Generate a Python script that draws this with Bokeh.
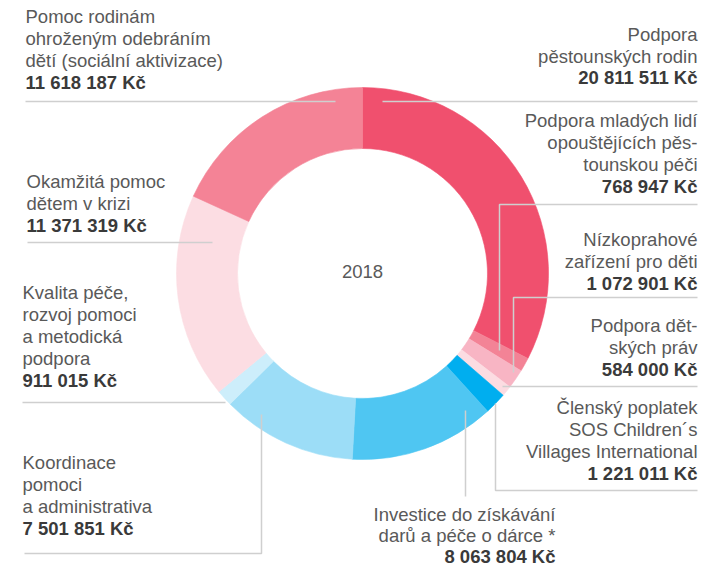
import numpy as np
from bokeh.plotting import figure
from bokeh.models import ColumnDataSource, Range1d
from bokeh.core.properties import value
from bokeh.embed import file_html
from bokeh.resources import INLINE

# ---------------- data ----------------
categories = [
    ["Podpora", "pěstounských rodin"],
    ["Podpora mladých lidí", "opouštějících pěs-", "tounskou péči"],
    ["Nízkoprahové", "zařízení pro děti"],
    ["Podpora dět-", "ských práv"],
    ["Členský poplatek", "SOS Children´s", "Villages International"],
    ["Investice do získávání", "darů a péče o dárce *"],
    ["Koordinace", "pomoci", "a administrativa"],
    ["Kvalita péče,", "rozvoj pomoci", "a metodická", "podpora"],
    ["Okamžitá pomoc", "dětem v krizi"],
    ["Pomoc rodinám", "ohroženým odebráním", "dětí (sociální aktivizace)"],
]
amounts = [20811511, 768947, 1072901, 584000, 1221011,
           8063804, 7501851, 911015, 11371319, 11618187]
colors = ["#F0506E", "#F38396", "#F8B5C4", "#FCDCE2", "#00AEEF",
          "#4FC6F2", "#9CDDF7", "#CDEEFB", "#FCDDE3", "#F48396"]
center_label = "2018"
currency = "Kč"

# ---------------- layout ----------------
W, H = 707, 568
CX, CY = 362, 273
R_OUT, R_IN = 186, 125

def Y(y):
    return H - y

label_x = [697, 697, 697, 697, 697, 555, 22, 22, 26, 25]
label_align = ["right"] * 6 + ["left"] * 4
label_first = [34, 120, 239, 325, 407, 514, 462, 292, 181, 16]
label_step = [21.5, 22, 22, 22, 22, 21, 22, 22, 22, 22]
leaders = [
    [(382, 101), (697, 101)],
    [(499, 350), (499, 204), (697, 204)],
    [(513, 372), (513, 297), (697, 297)],
    [(502, 386), (697, 386)],
    [(495, 403), (495, 490), (697, 490)],
    [(465, 410), (465, 496)],
    [(261, 414), (261, 553), (24, 553)],
    [(225, 402), (22, 402)],
    [(212, 242), (27, 242)],
    [(335, 101), (25, 101)],
]

# ---------------- figure ----------------
p = figure(width=W, height=H, x_range=Range1d(0, W), y_range=Range1d(0, H),
           output_backend="svg", toolbar_location=None, min_border=0,
           x_axis_type=None, y_axis_type=None)
p.grid.visible = False
p.outline_line_color = None
p.background_fill_color = "white"
p.border_fill_color = "white"

vals = np.array(amounts, dtype=float)
frac = vals / vals.sum()
c1 = np.cumsum(frac)
c0 = c1 - frac
wedges = ColumnDataSource(dict(
    start=np.pi / 2 - 2 * np.pi * c1,
    end=np.pi / 2 - 2 * np.pi * c0,
    color=colors,
))
p.annular_wedge(x=CX, y=Y(CY), inner_radius=R_IN, outer_radius=R_OUT,
                start_angle="start", end_angle="end", direction="anticlock",
                fill_color="color", line_color="color", line_width=0.6,
                source=wedges)

# leader lines
p.multi_line(xs=[[pt[0] for pt in l] for l in leaders],
             ys=[[Y(pt[1]) for pt in l] for l in leaders],
             line_color="#cfcfcf", line_width=1.5)

FONT = value("Liberation Sans")
FS = "18.5px"

def fmt(v):
    return f"{v:,}".replace(",", " ") + " " + currency

for align in ("left", "right"):
    norm = dict(x=[], y=[], text=[])
    bold = dict(x=[], y=[], text=[])
    for i, lines in enumerate(categories):
        if label_align[i] != align:
            continue
        for j, ln in enumerate(lines):
            norm["x"].append(label_x[i])
            norm["y"].append(Y(label_first[i] + j * label_step[i]))
            norm["text"].append(ln)
        bold["x"].append(label_x[i])
        bold["y"].append(Y(label_first[i] + len(lines) * label_step[i]))
        bold["text"].append(fmt(amounts[i]))
    p.text(x="x", y="y", text="text", source=ColumnDataSource(norm),
           text_align=align, text_baseline="alphabetic", text_font=FONT,
           text_font_size=FS, text_color="#595959")
    p.text(x="x", y="y", text="text", source=ColumnDataSource(bold),
           text_align=align, text_baseline="alphabetic", text_font=FONT,
           text_font_size=FS, text_font_style="bold", text_color="#3a3a3a")

p.text(x=[CX], y=[Y(271)], text=[center_label], text_align="center",
       text_baseline="alphabetic", text_font=FONT, text_font_size=FS,
       text_color="#595959")

open("out.html", "w").write(file_html(p, INLINE))
